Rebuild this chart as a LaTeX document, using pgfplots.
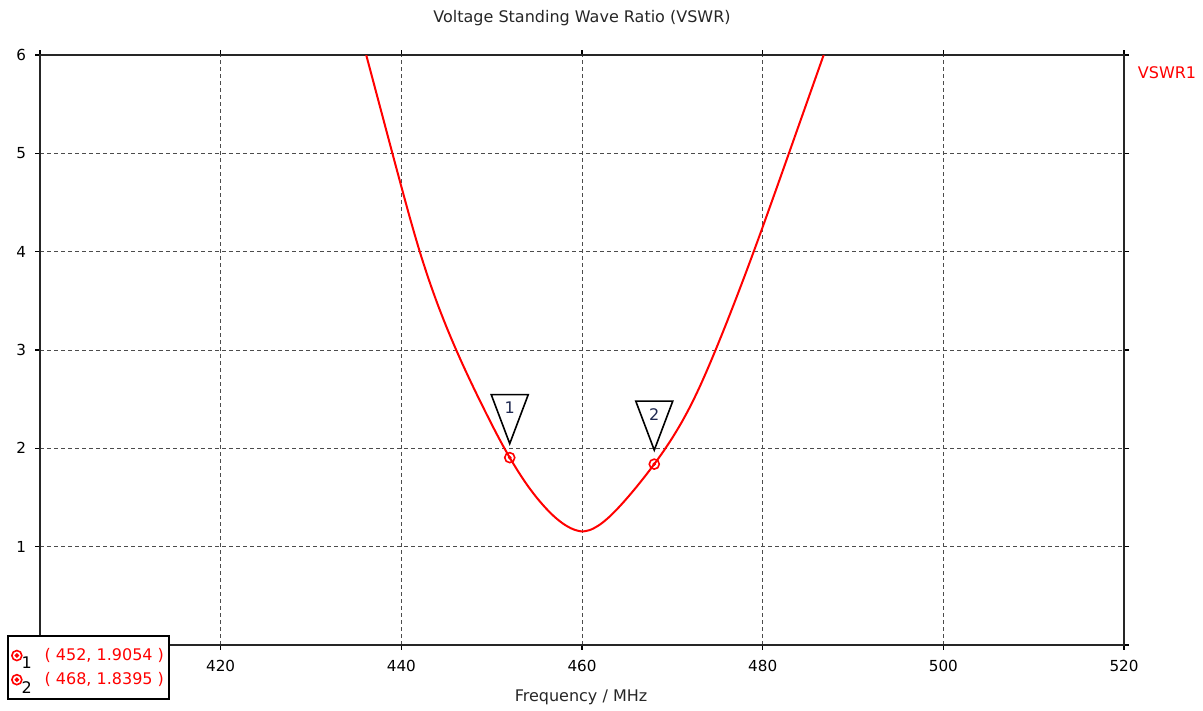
\documentclass[border=0pt]{standalone}
\usepackage{fontspec}
\setmainfont{DejaVu Sans}
\usepackage{pgfplots}
\pgfplotsset{compat=1.18}

\definecolor{markno}{RGB}{30,40,80}

\begin{document}
\begin{tikzpicture}[x=1pt,y=1pt]
\useasboundingbox (0,0) rectangle (601.5,355.5);
\begin{axis}[
    at={(20pt,33pt)}, anchor=south west,
    scale only axis, width=542pt, height=295pt,
    xmin=400, xmax=520, ymin=0, ymax=6,
    xtick={400,420,...,520}, ytick={0,1,...,6},
    grid=major,
    grid style={dash pattern=on 2pt off 1.5pt, line width=0.5pt, black!70},
    axis line style={line width=0.8pt, black!85},
    tick align=outside, major tick length=2.5pt,
    tick style={black, line width=0.6pt},
    tick label style={font=\fontsize{7.6}{9}\selectfont, /pgf/number format/assume math mode=true},
    xticklabel style={yshift=-1.5pt},
    yticklabel style={xshift=-1pt},
    legend style={at={(-0.0304,0.017)}, anchor=north west, draw=black,
        line width=1pt, fill=white, font=\fontsize{8}{9.6}\selectfont,
        text=red, inner xsep=1.5pt, inner ysep=5pt, row sep=2.5pt,
        column sep=10pt, nodes={inner sep=1pt}, cells={anchor=west}},
]
    % VSWR curve
    \addplot[red, line width=1pt, smooth, forget plot] coordinates {
        (435.5,6.21) (436,6.039) (437,5.694) (438,5.349) (439,5.004)
        (440,4.662) (441,4.327) (442,4.012) (443,3.727) (444,3.469)
        (445,3.234) (446,3.016) (447,2.811) (448,2.616) (449,2.428)
        (450,2.245) (451,2.069) (452,1.9054) (453,1.755) (454,1.618)
        (455,1.497) (456,1.391) (457,1.300) (458,1.228) (459,1.178)
        (460,1.155) (461,1.174) (462,1.226) (463,1.301) (464,1.393)
        (465,1.495) (466,1.604) (467,1.719) (468,1.8395) (469,1.968)
        (470,2.107) (471,2.260) (472,2.430) (473,2.620) (474,2.828)
        (475,3.048) (476,3.276) (477,3.511) (478,3.752) (479,3.999)
        (480,4.251) (481,4.507) (482,4.765) (483,5.025) (484,5.285)
        (485,5.545) (486,5.805) (487,6.065) (487.3,6.14)
    };
    % markers
    \addplot[only marks, mark=o, mark size=2.5pt, red, line width=0.8pt,
        mark options={fill=white},
        legend image code/.code={
            \draw[red, line width=0.8pt, fill=white] (0,0) circle (2.5pt);
            \fill[red] (0,0) circle (0.7pt);
            \node[overlay, black, font=\fontsize{8}{9}\selectfont, inner sep=0pt] at (2pt,-4.5pt) {1};
        }] coordinates {(452,1.9054)};
    \addlegendentry{( 452, 1.9054 )}
    \addplot[only marks, mark=o, mark size=2.5pt, red, line width=0.8pt,
        mark options={fill=white},
        legend image code/.code={
            \draw[red, line width=0.8pt, fill=white] (0,0) circle (2.5pt);
            \fill[red] (0,0) circle (0.7pt);
            \node[overlay, black, font=\fontsize{8}{9}\selectfont, inner sep=0pt] at (2pt,-4.5pt) {2};
        }] coordinates {(468,1.8395)};
    \addlegendentry{( 468, 1.8395 )}
    \addplot[only marks, mark=*, mark size=0.7pt, red, forget plot]
        coordinates {(452,1.9054) (468,1.8395)};
    % marker flags
    \draw[black, line width=0.8pt] ([yshift=7pt]axis cs:452,1.9054)
        -- ++(-9.25pt,24.5pt) -- ++(18.5pt,0pt) -- cycle;
    \node[markno, font=\fontsize{8}{9.6}\selectfont] at ([yshift=25pt]axis cs:452,1.9054) {1};
    \draw[black, line width=0.8pt] ([yshift=7pt]axis cs:468,1.8395)
        -- ++(-9.25pt,24.5pt) -- ++(18.5pt,0pt) -- cycle;
    \node[markno, font=\fontsize{8}{9.6}\selectfont] at ([yshift=25pt]axis cs:468,1.8395) {2};
\end{axis}
\node[black!85, font=\fontsize{8}{9.6}\selectfont] at (291,346.5) {Voltage Standing Wave Ratio (VSWR)};
\node[black!85, font=\fontsize{8}{9.6}\selectfont] at (290.5,7) {Frequency / MHz};
\node[red, font=\fontsize{8}{9.6}\selectfont] at (583.5,319) {VSWR1};
\end{tikzpicture}
\end{document}
